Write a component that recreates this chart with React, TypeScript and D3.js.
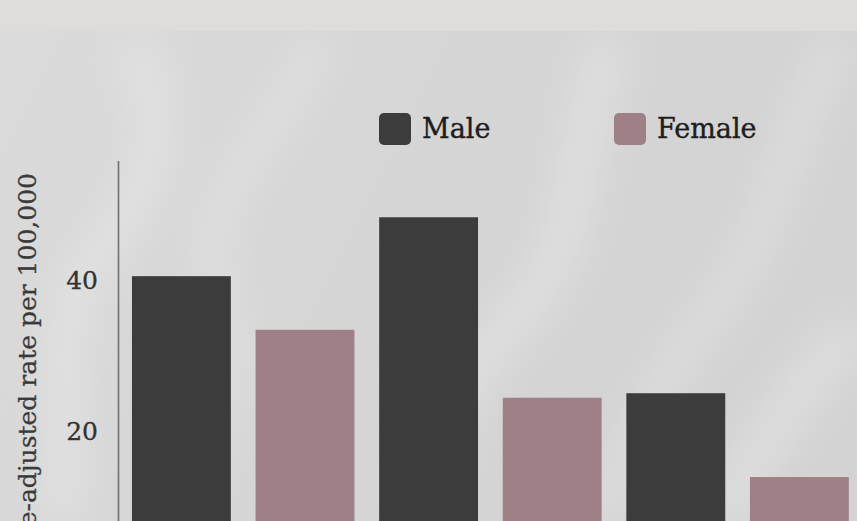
import React from "react";
import * as d3 from "d3";

const groups = ["Group 1", "Group 2", "Group 3"];
const sexes = ["Male", "Female"];
const maleValues = [40.5, 48.3, 25.0];
const femaleValues = [33.4, 24.4, 13.9];
const yTicks = [20, 40];
const yTitle = "Age-adjusted rate per 100,000";

const W = 857;
const H = 521;
const FONT = "'DejaVu Serif', serif";
const COLORS: Record<string, string> = { Male: "#3c3c3c", Female: "#a08087" };

type Row = { key: string; group: string; sex: string; value: number };
const rows: Row[] = [];
groups.forEach((g, i) => {
  rows.push({ key: g + "-Male", group: g, sex: "Male", value: maleValues[i] });
  rows.push({ key: g + "-Female", group: g, sex: "Female", value: femaleValues[i] });
});

export default function App() {
  const x = d3
    .scaleBand<string>()
    .domain(rows.map((r) => r.key))
    .range([119.6, 861.2])
    .paddingInner(0.2)
    .paddingOuter(0.1);
  const y = d3.scaleLinear().domain([0, 55.75]).range([582, 161]);

  const wisps = [
    "M60,521 C80,420 40,330 100,250 S170,120 130,40",
    "M180,521 C200,430 250,380 220,290 S270,150 320,40",
    "M430,521 C410,440 480,360 530,300 S570,160 610,40",
    "M600,521 C640,420 660,380 720,300 S780,140 840,40",
    "M720,521 C760,450 800,380 857,330",
  ];

  return (
    <svg
      width={W}
      height={H}
      style={{ position: "fixed", left: 0, top: 0, display: "block" }}
      fontFamily={FONT}
    >
      <defs>
        <filter id="blur" x="-50%" y="-50%" width="200%" height="200%">
          <feGaussianBlur stdDeviation="18" />
        </filter>
        <linearGradient id="bg" x1="0" y1="0" x2="1" y2="0.3">
          <stop offset="0" stopColor="#dbdbdb" />
          <stop offset="0.5" stopColor="#d6d6d6" />
          <stop offset="1" stopColor="#d3d3d3" />
        </linearGradient>
      </defs>
      <rect x={0} y={0} width={W} height={H} fill="url(#bg)" />
      <g filter="url(#blur)" fill="none" stroke="#e8e8e8" strokeOpacity={0.55}>
        {wisps.map((d, i) => (
          <path key={i} d={d} strokeWidth={i % 2 === 0 ? 40 : 28} />
        ))}
      </g>
      <rect x={0} y={0} width={W} height={31} fill="#dedddb" />

      {/* legend */}
      {sexes.map((s, i) => {
        const lx = i === 0 ? 379 : 614;
        return (
          <g key={s} transform={`translate(${lx},113)`}>
            <rect width={32} height={32} rx={5} fill={COLORS[s]} />
            <text
              x={43}
              y={25}
              fontSize={27}
              fill="#1e1e1e"
              stroke="#1e1e1e"
              strokeWidth={0.4}
            >
              {s}
            </text>
          </g>
        );
      })}

      {/* y axis */}
      <line x1={118.5} x2={118.5} y1={y(55.75)} y2={H + 10} stroke="#707070" strokeWidth={1.6} />
      {yTicks.map((t) => (
        <text
          key={t}
          x={98}
          y={y(t)}
          dy="0.36em"
          textAnchor="end"
          fontSize={25}
          fill="#333"
          stroke="#333"
          strokeWidth={0.3}
        >
          {t}
        </text>
      ))}
      <text
        transform={`translate(36,173) rotate(-90)`}
        textAnchor="end"
        fontSize={25}
        fill="#3a3a3a"
        stroke="#3a3a3a"
        strokeWidth={0.3}
      >
        {yTitle}
      </text>

      {/* bars */}
      {rows.map((r) => (
        <rect
          key={r.key}
          x={x(r.key)}
          y={y(r.value)}
          width={x.bandwidth()}
          height={y(0) - y(r.value)}
          fill={COLORS[r.sex]}
        />
      ))}
    </svg>
  );
}
